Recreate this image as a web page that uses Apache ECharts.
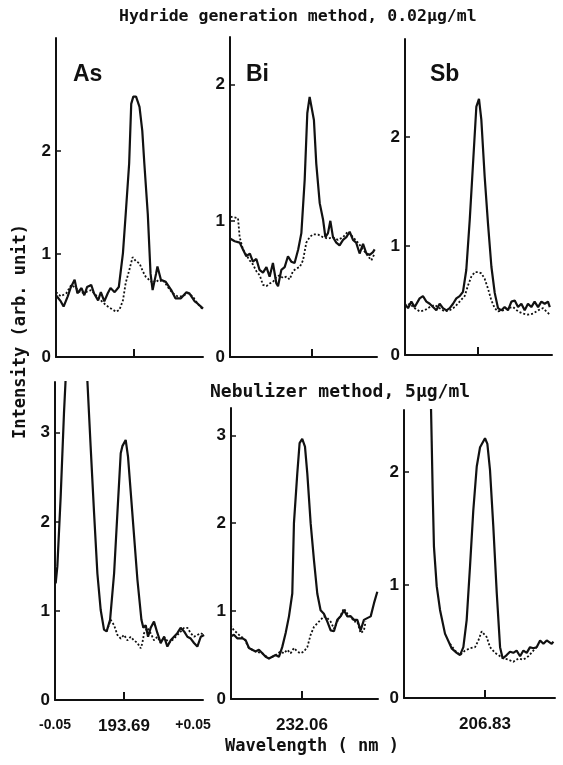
<!DOCTYPE html>
<html>
<head>
<meta charset="utf-8">
<script src="https://cdn.jsdelivr.net/npm/echarts@6/dist/echarts.min.js"></script>
<style>
  html, body { margin: 0; padding: 0; background: #fff; }
  #chart { width: 563px; height: 765px; }
</style>
</head>
<body>
<div id="chart"></div>
<script>
// x = offset from line centre (pm), y = intensity (arb. unit)
const hydAsSolid = [[-56.5,0.60],[-53,0.54],[-51,0.49],[-48,0.59],[-46,0.67],[-43,0.75],[-41,0.62],[-38,0.67],[-36,0.60],[-34,0.68],[-31,0.70],[-29,0.62],[-26,0.55],[-24,0.63],[-21.5,0.54],[-19,0.62],[-17,0.67],[-14,0.63],[-11,0.68],[-8,1.01],[-6,1.39],[-3.5,1.88],[-2,2.46],[-0.5,2.53],[1.5,2.53],[4,2.43],[6,2.20],[7.5,1.88],[10,1.39],[12,0.81],[13.5,0.65],[16,0.81],[17,0.88],[19.5,0.75],[23,0.73],[27,0.65],[30,0.57],[34,0.57],[38,0.63],[40,0.62],[44,0.54],[46,0.52],[48.5,0.49],[50,0.47]];
const hydAsDot = [[-56.5,0.63],[-53,0.59],[-49,0.62],[-45.5,0.70],[-42,0.67],[-38.5,0.62],[-35,0.63],[-31,0.65],[-27.5,0.60],[-24,0.55],[-20,0.50],[-16.5,0.47],[-13,0.44],[-10.5,0.46],[-8,0.55],[-6,0.72],[-3.5,0.84],[-1,0.97],[1.5,0.93],[4,0.91],[6.5,0.83],[8.5,0.78],[11,0.75],[13.5,0.72],[16,0.75],[18,0.73],[21,0.75],[24.5,0.68],[28,0.62],[31.5,0.59],[35,0.59],[39,0.62],[42.5,0.59],[46,0.52],[50,0.46]];

const hydBiSolid = [[-59.4,0.87],[-56,0.85],[-52.4,0.84],[-50,0.79],[-47.6,0.74],[-45,0.76],[-42.8,0.70],[-40.3,0.72],[-38,0.64],[-35.5,0.62],[-33,0.66],[-30.7,0.59],[-28.3,0.69],[-25.8,0.54],[-24.6,0.52],[-22.2,0.64],[-19.8,0.66],[-17.4,0.74],[-15,0.70],[-12.6,0.69],[-10,0.79],[-7.7,0.91],[-5.3,1.30],[-3.4,1.79],[-1.7,1.91],[-0.5,1.90],[1.4,1.74],[3.1,1.42],[5.6,1.13],[8,1.01],[9.7,0.88],[11.6,0.91],[13.3,1.00],[15.2,0.88],[17.6,0.84],[20,0.82],[22.5,0.86],[24.9,0.88],[27.3,0.92],[29.7,0.86],[32,0.84],[34.5,0.76],[37,0.83],[39.4,0.76],[41.8,0.75],[44.2,0.77],[45.4,0.79]];
const hydBiDot = [[-59,1.03],[-53.6,1.02],[-52.4,0.88],[-50,0.79],[-47.6,0.75],[-45.2,0.71],[-42.8,0.68],[-40.3,0.63],[-37.9,0.60],[-35.5,0.53],[-33,0.52],[-30.7,0.54],[-28.3,0.55],[-25.8,0.59],[-23.4,0.60],[-21,0.58],[-18.6,0.59],[-16.2,0.57],[-13.8,0.63],[-11.4,0.65],[-8.9,0.66],[-6.5,0.71],[-4.1,0.84],[-1.7,0.88],[0.7,0.90],[4.3,0.90],[8,0.88],[11.6,0.87],[15.2,0.88],[18.8,0.86],[22.5,0.88],[26,0.92],[29.7,0.88],[33.3,0.84],[37,0.79],[40.6,0.74],[43,0.71],[45.4,0.76]];

const hydSbSolid = [[-53,0.47],[-50.7,0.43],[-48.3,0.49],[-45.9,0.44],[-42.3,0.52],[-39.9,0.54],[-37.4,0.49],[-35,0.47],[-32.6,0.44],[-30.2,0.41],[-27.8,0.47],[-25.4,0.43],[-22.9,0.41],[-20.5,0.43],[-18.1,0.47],[-15.7,0.52],[-13.3,0.54],[-10.9,0.58],[-8.5,0.78],[-6,1.24],[-3.6,1.76],[-1.2,2.28],[0.7,2.35],[2.4,2.16],[4.8,1.64],[7.2,1.21],[9.7,0.81],[12.1,0.57],[14.5,0.43],[16.9,0.41],[19.3,0.44],[21.7,0.41],[24.2,0.49],[26.6,0.50],[29,0.44],[31.4,0.47],[33.8,0.41],[36.2,0.47],[38.6,0.44],[41,0.49],[43.5,0.44],[45.9,0.49],[48.3,0.47],[50.7,0.49],[52,0.44]];
const hydSbDot = [[-53,0.44],[-49.5,0.47],[-45.9,0.43],[-42.3,0.40],[-38.6,0.41],[-35,0.44],[-31.4,0.46],[-27.8,0.43],[-24.2,0.40],[-20.5,0.41],[-16.9,0.44],[-13.3,0.49],[-9.7,0.54],[-7.2,0.64],[-4.8,0.72],[-2.4,0.76],[0,0.76],[2.4,0.75],[4.8,0.70],[7.2,0.61],[9.7,0.50],[12.1,0.43],[14.5,0.40],[18.1,0.41],[21.7,0.43],[25.4,0.44],[29,0.40],[32.6,0.38],[36.2,0.37],[39.9,0.38],[43.5,0.41],[47.1,0.43],[49.5,0.40],[52,0.37]];

const nebAsSolid = [[-49.5,1.31],[-48.3,1.50],[-45.9,2.28],[-43.5,3.22],[-42.3,3.60],[-39.9,4.35],[-33,5.0],[-26.6,3.60],[-24.2,2.85],[-21.7,2.10],[-19.3,1.42],[-16.9,1.01],[-14.5,0.79],[-12.6,0.77],[-10.1,0.90],[-7.2,1.42],[-4.8,2.10],[-2.4,2.77],[-1.2,2.85],[1.2,2.92],[2.9,2.73],[6,2.10],[9.7,1.35],[12.6,0.90],[14,0.81],[15.7,0.84],[17.4,0.71],[19.3,0.81],[21.7,0.88],[24.2,0.75],[26.6,0.64],[29,0.71],[31.4,0.60],[33.8,0.67],[36.2,0.71],[38.6,0.75],[41,0.81],[43.5,0.77],[45.9,0.71],[48.3,0.69],[50.7,0.64],[53.1,0.60],[55.6,0.71],[58,0.73]];
const nebAsDot = [[-12.6,0.77],[-9.7,0.90],[-7.2,0.84],[-4.8,0.73],[-2.4,0.69],[0,0.73],[2.4,0.67],[4.8,0.71],[7.2,0.67],[9.7,0.64],[12.1,0.58],[13.3,0.64],[14.5,0.75],[16.9,0.81],[19.3,0.75],[21.7,0.67],[24.2,0.71],[26.6,0.64],[29,0.71],[32.6,0.64],[36.2,0.69],[39.9,0.75],[43.5,0.81],[45.9,0.81],[48.3,0.75],[50.7,0.71],[53.1,0.73],[55.6,0.75],[58,0.73]];

const nebBiSolid = [[-51.7,0.71],[-49.3,0.73],[-46.9,0.69],[-43.2,0.69],[-40.8,0.67],[-38.4,0.58],[-36,0.56],[-33.6,0.54],[-31.2,0.56],[-28.7,0.52],[-26.3,0.48],[-23.9,0.46],[-21.5,0.48],[-19.1,0.50],[-16.7,0.48],[-14.3,0.59],[-11.8,0.75],[-9.4,0.94],[-7,1.20],[-5.8,2.00],[-3.4,2.56],[-1.7,2.91],[0.2,2.96],[2.2,2.87],[3.9,2.56],[6.3,2.00],[8.7,1.58],[11.1,1.20],[13.5,1.01],[15.9,0.97],[18.4,0.88],[20.8,0.78],[23.2,0.77],[25.6,0.90],[28,0.94],[30.4,1.01],[32.9,0.94],[35.3,0.94],[37.7,0.90],[40.1,0.90],[42.5,0.78],[44.9,0.90],[47.3,0.92],[49.8,0.94],[52.2,1.09],[54.6,1.22]];
const nebBiDot = [[-51.7,0.84],[-49.3,0.78],[-46.9,0.75],[-44.4,0.71],[-42,0.69],[-38.4,0.58],[-33.6,0.54],[-28.7,0.52],[-23.9,0.46],[-19.1,0.50],[-15.5,0.54],[-13,0.52],[-10.6,0.56],[-8.2,0.52],[-5.8,0.58],[-3.4,0.54],[-1,0.52],[1.4,0.54],[3.9,0.59],[6.3,0.73],[8.7,0.82],[11.1,0.86],[13.5,0.90],[15.9,0.94],[18.4,0.92],[20.8,0.88],[23.2,0.80],[25.6,0.88],[28,0.95],[30.4,1.03],[32.9,0.97],[35.3,0.94],[37.7,0.88],[40.1,0.88],[42.5,0.75],[44.9,0.78],[46.1,0.88]];

const nebSbSolid = [[-39.6,2.76],[-39.1,2.55],[-38.6,2.25],[-37.9,1.81],[-37,1.34],[-35,0.99],[-32.6,0.78],[-29,0.57],[-24.2,0.44],[-20.5,0.40],[-18.1,0.38],[-15.7,0.45],[-13.3,0.69],[-10.9,1.16],[-8.5,1.66],[-6,2.05],[-3.6,2.22],[0,2.30],[1.7,2.25],[3.6,2.02],[6,1.52],[8.5,0.93],[10.9,0.45],[12.8,0.35],[15.7,0.38],[18.1,0.41],[20.5,0.40],[22.9,0.42],[25.4,0.37],[27.8,0.42],[30.2,0.40],[32.6,0.45],[35,0.44],[37.4,0.45],[39.9,0.51],[42.3,0.48],[44.7,0.51],[48.3,0.48],[49.5,0.50]];
const nebSbDot = [[-25.4,0.48],[-21.7,0.42],[-18.1,0.38],[-14.5,0.42],[-10.9,0.44],[-7.2,0.45],[-4.8,0.51],[-2.4,0.59],[-1.2,0.60],[1.2,0.54],[3.6,0.45],[7.2,0.40],[10.9,0.37],[13.3,0.35],[16.9,0.34],[20.5,0.32],[24.2,0.35],[27.8,0.34],[31.4,0.37],[35,0.42],[37.4,0.45]];

const elements = ['As', 'Bi', 'Sb'];
const centreLabels = ['193.69', '232.06', '206.83'];
const asSideLabels = ['-0.05', '+0.05'];
const yTicksHyd = [[0, 1, 2], [0, 1, 2], [0, 1, 2]];
const yTicksNeb = [[0, 1, 2, 3], [0, 1, 2, 3], [0, 1, 2]];

// panel layout: grid box, x range (pm), y max
const panels = [
  {grid: [56, 38, 147, 319], x: [-56.5, 50], yMax: 3.10, ticks: yTicksHyd[0], solid: hydAsSolid, dot: hydAsDot},
  {grid: [230, 37, 147, 320], x: [-59.4, 47.1], yMax: 2.35, ticks: yTicksHyd[1], solid: hydBiSolid, dot: hydBiDot},
  {grid: [405, 39, 147, 316], x: [-52.9, 53.6], yMax: 2.90, ticks: yTicksHyd[2], solid: hydSbSolid, dot: hydSbDot},
  {grid: [55, 382, 148, 318], x: [-50, 57.2], yMax: 3.57, ticks: yTicksNeb[0], solid: nebAsSolid, dot: nebAsDot, lab: 0},
  {grid: [231, 408, 147, 291], x: [-51.4, 55.1], yMax: 3.31, ticks: yTicksNeb[1], solid: nebBiSolid, dot: nebBiDot, lab: 1},
  {grid: [404, 410, 151, 288], x: [-58.7, 50.7], yMax: 2.55, ticks: yTicksNeb[2], solid: nebSbSolid, dot: nebSbDot, lab: 2}
];

const ink = '#111';
const grids = [], xAxes = [], yAxes = [], series = [];

panels.forEach((p, i) => {
  grids.push({left: p.grid[0], top: p.grid[1], width: p.grid[2], height: p.grid[3]});
  const xLabelVals = p.lab === undefined ? [] : (p.lab === 0 ? [-50, 0, 50] : [0]);
  xAxes.push({
    gridIndex: i, type: 'value', min: p.x[0], max: p.x[1],
    splitLine: {show: false},
    axisLine: {onZero: false, lineStyle: {color: ink, width: 2}},
    axisTick: {inside: true, length: 8, customValues: [0], lineStyle: {color: ink, width: 2}},
    axisLabel: {
      show: p.lab !== undefined, customValues: xLabelVals, margin: 18,
      formatter: v => v === 0 ? '{c|' + centreLabels[p.lab] + '}' : '{s|' + (v < 0 ? asSideLabels[0] : asSideLabels[1]) + '}',
      rich: {
        c: {fontFamily: 'Liberation Sans', fontWeight: 'bold', fontSize: 17, color: ink},
        s: {fontFamily: 'Liberation Sans', fontWeight: 'bold', fontSize: 14, color: ink}
      }
    }
  });
  yAxes.push({
    gridIndex: i, type: 'value', min: 0, max: p.yMax,
    splitLine: {show: false},
    axisLine: {onZero: false, lineStyle: {color: ink, width: 2}},
    axisTick: {inside: true, length: 5, customValues: p.ticks, lineStyle: {color: ink, width: 1.5}},
    axisLabel: {customValues: p.ticks, margin: 5, color: ink, fontFamily: 'Liberation Sans', fontWeight: 'bold', fontSize: 17}
  });
  series.push({
    type: 'line', xAxisIndex: i, yAxisIndex: i, data: p.dot, showSymbol: false, symbol: 'none',
    lineStyle: {color: ink, width: 1.8, type: [2, 2]}, z: 2
  });
  series.push({
    type: 'line', xAxisIndex: i, yAxisIndex: i, data: p.solid, showSymbol: false, symbol: 'none',
    lineStyle: {color: ink, width: 2.2}, z: 3
  });
});

const mono = '"DejaVu Sans Mono"';
const graphic = [
  {type: 'text', left: 119, top: 8, style: {text: 'Hydride generation method, 0.02\u03bcg/ml', font: 'bold 16.5px ' + mono, fill: ink}},
  {type: 'text', left: 210, top: 383, style: {text: 'Nebulizer method, 5\u03bcg/ml', font: 'bold 18px ' + mono, fill: ink}},
  {type: 'text', left: 225, top: 738, style: {text: 'Wavelength ( nm )', font: 'bold 17px ' + mono, fill: ink}},
  {type: 'text', left: 12, top: 224, rotation: Math.PI / 2, style: {text: 'Intensity (arb. unit)', font: 'bold 17px ' + mono, fill: ink}},
  {type: 'text', left: 73, top: 63, style: {text: elements[0], font: 'bold 23px "Liberation Sans"', fill: ink}},
  {type: 'text', left: 246, top: 63, style: {text: elements[1], font: 'bold 23px "Liberation Sans"', fill: ink}},
  {type: 'text', left: 430, top: 63, style: {text: elements[2], font: 'bold 23px "Liberation Sans"', fill: ink}}
];

const chart = echarts.init(document.getElementById('chart'), null, {renderer: 'canvas'});
chart.setOption({
  backgroundColor: '#fff',
  animation: false,
  grid: grids,
  xAxis: xAxes,
  yAxis: yAxes,
  series: series,
  graphic: graphic
});
</script>
</body>
</html>
